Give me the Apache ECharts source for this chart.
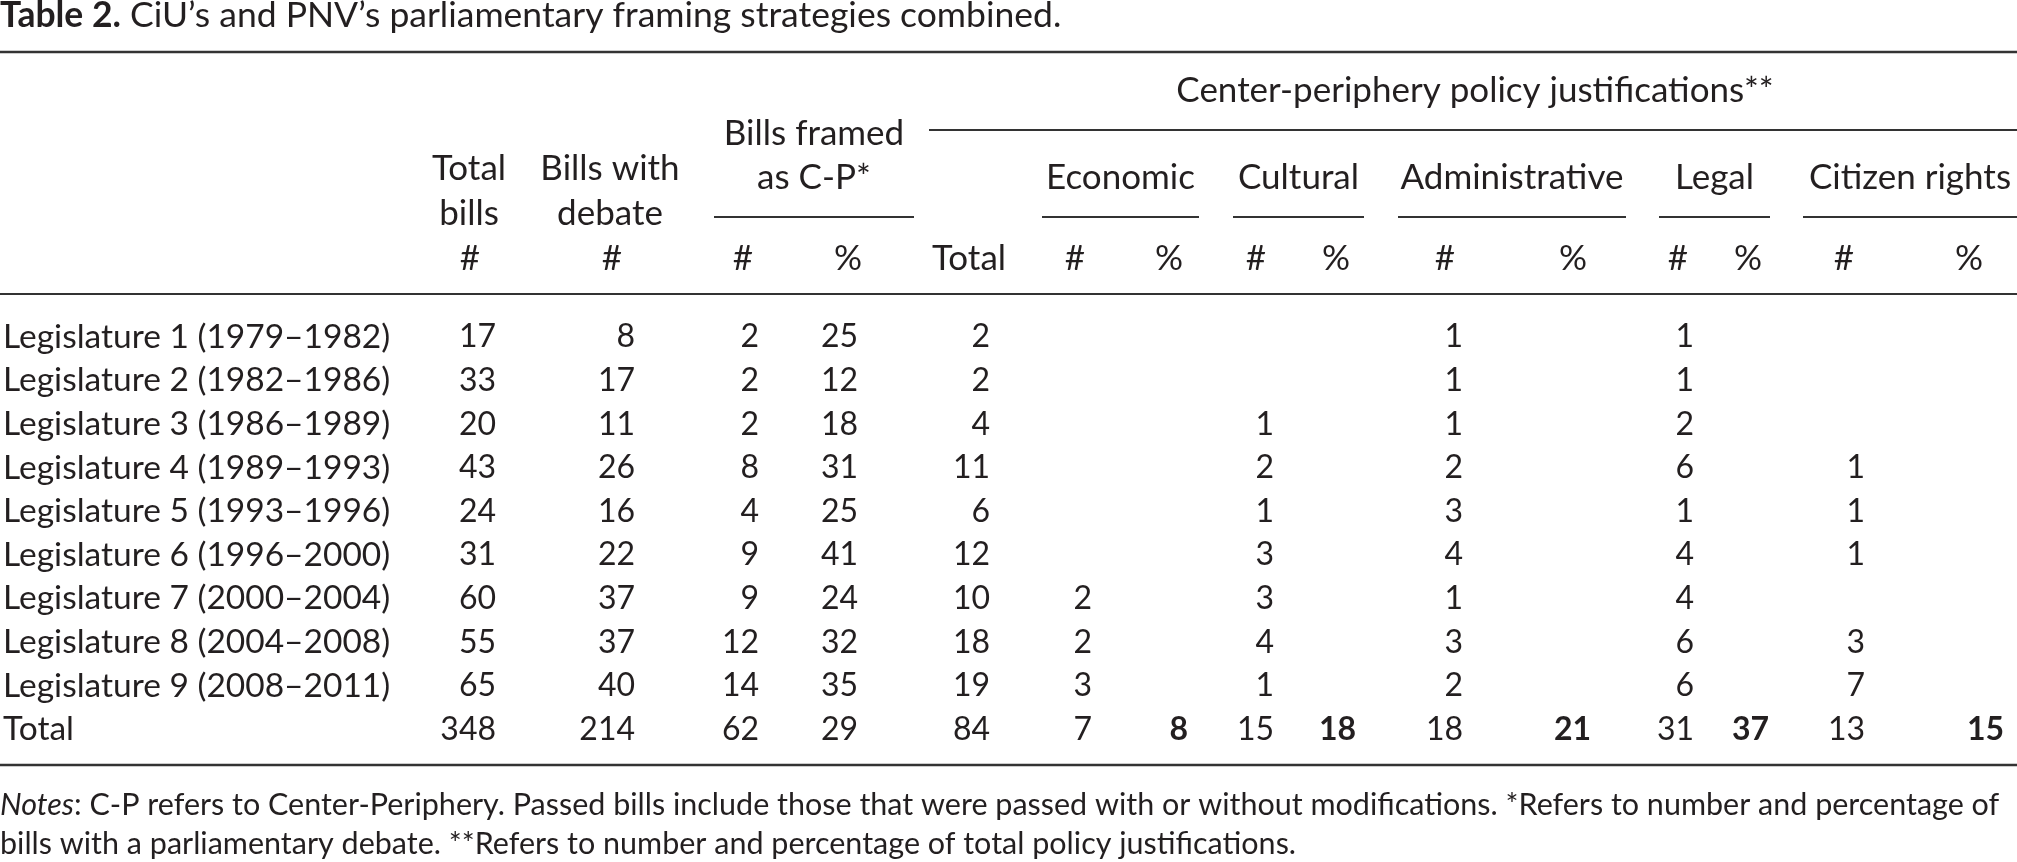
<!DOCTYPE html>
<html>
<head>
<meta charset="utf-8">
<script src="https://cdn.jsdelivr.net/npm/echarts@6/dist/echarts.min.js"></script>
<style>
  html, body { margin: 0; padding: 0; background: #fff; }
  #main { width: 2017px; height: 862px; }
</style>
</head>
<body>
<div id="main"></div>
<script>
    // table data
    var rowLabels = [
        'Legislature 1 (1979–1982)', 'Legislature 2 (1982–1986)', 'Legislature 3 (1986–1989)',
        'Legislature 4 (1989–1993)', 'Legislature 5 (1993–1996)', 'Legislature 6 (1996–2000)',
        'Legislature 7 (2000–2004)', 'Legislature 8 (2004–2008)', 'Legislature 9 (2008–2011)', 'Total'
    ];
    var totalBills   = [17, 33, 20, 43, 24, 31, 60, 55, 65, 348];
    var billsDebate  = [8, 17, 11, 26, 16, 22, 37, 37, 40, 214];
    var cpCount      = [2, 2, 2, 8, 4, 9, 9, 12, 14, 62];
    var cpPct        = [25, 12, 18, 31, 25, 41, 24, 32, 35, 29];
    var justTotal    = [2, 2, 4, 11, 6, 12, 10, 18, 19, 84];
    var economic     = [null, null, null, null, null, null, 2, 2, 3, 7];
    var economicPct  = [null, null, null, null, null, null, null, null, null, 8];
    var cultural     = [null, null, 1, 2, 1, 3, 3, 4, 1, 15];
    var culturalPct  = [null, null, null, null, null, null, null, null, null, 18];
    var admin        = [1, 1, 1, 2, 3, 4, 1, 3, 2, 18];
    var adminPct     = [null, null, null, null, null, null, null, null, null, 21];
    var legal        = [1, 1, 2, 6, 1, 4, 4, 6, 6, 31];
    var legalPct     = [null, null, null, null, null, null, null, null, null, 37];
    var citizen      = [null, null, null, 1, 1, 1, null, 3, 7, 13];
    var citizenPct   = [null, null, null, null, null, null, null, null, null, 15];

    var subHeads = ['#', '#', '#', '%', 'Total', '#', '%', '#', '%', '#', '%', '#', '%', '#', '%'];
    var groupHeads = ['Economic', 'Cultural', 'Administrative', 'Legal', 'Citizen rights'];

    var columns = [totalBills, billsDebate, cpCount, cpPct, justTotal,
                   economic, economicPct, cultural, culturalPct, admin, adminPct,
                   legal, legalPct, citizen, citizenPct];
    // share-of-justifications columns are set in bold
    var boldCols = [6, 8, 10, 12, 14];

    // layout (pixels)
    var W = 2017, H = 862;
    var colRight = [496, 635, 759, 858, 990, 1092, 1188, 1274, 1356, 1463, 1591, 1694, 1769, 1865, 2004];
    var colHead  = [470, 612, 743, 848, 969, 1075, 1169, 1256, 1336, 1445, 1573, 1678, 1748, 1844, 1969];
    var groupSpan = [[1042, 1199], [1233, 1364], [1398, 1626], [1659, 1770], [1803, 2017]];
    var rowY0 = 337, rowStep = 43.6;
    var FS_NUM = 32, FS_LAB = 33.5, FS_HEAD = 35, FS_TITLE = 35.5, FS_NOTE = 30.5;
    var FONT = 'Lato';
    var INK = '#231f20';

    var cells = [];
    rowLabels.forEach(function (lab, r) {
        cells.push({ value: [3, rowY0 + r * rowStep], text: lab, align: 'left', size: FS_LAB });
    });
    columns.forEach(function (col, c) {
        col.forEach(function (v, r) {
            if (v === null) return;
            cells.push({
                value: [colRight[c], rowY0 + r * rowStep],
                text: String(v), align: 'right', size: FS_NUM,
                bold: r === rowLabels.length - 1 && boldCols.indexOf(c) >= 0
            });
        });
    });

    var heads = [];
    subHeads.forEach(function (t, c) {
        heads.push({ value: [colHead[c], 259], text: t });
    });
    groupHeads.forEach(function (t, g) {
        heads.push({ value: [(groupSpan[g][0] + groupSpan[g][1]) / 2, 178], text: t });
    });
    heads.push({ value: [469, 169], text: 'Total' });
    heads.push({ value: [469, 214], text: 'bills' });
    heads.push({ value: [610, 169], text: 'Bills with' });
    heads.push({ value: [610, 214], text: 'debate' });
    heads.push({ value: [814, 134], text: 'Bills framed' });
    heads.push({ value: [814, 178], text: 'as C-P*' });
    heads.push({ value: [1475, 91], text: 'Center-periphery policy justifications**' });

    var rules = [
        { value: [0, W, 52], w: 2.6 },
        { value: [929, W, 130], w: 2 },
        { value: [714, 914, 217], w: 2 },
        { value: [0, W, 294], w: 2.2 },
        { value: [0, W, 765], w: 2.6 }
    ];
    groupSpan.forEach(function (s) {
        rules.push({ value: [s[0], s[1], 217], w: 2 });
    });

    var chart = echarts.init(document.getElementById('main'));

    function textItem(api, item, align, size) {
        var p = api.coord(item.value);
        return {
            type: 'text',
            x: p[0], y: p[1],
            style: {
                text: item.text,
                textAlign: align || item.align,
                textVerticalAlign: 'middle',
                verticalAlign: 'middle',
                font: (item.bold ? 'bold ' : '') + (size || item.size) + 'px ' + FONT,
                fill: INK
            }
        };
    }

    var option = {
        animation: false,
        grid: { left: 0, right: 0, top: 0, bottom: 0 },
        xAxis: { type: 'value', min: 0, max: W, show: false },
        yAxis: { type: 'value', min: 0, max: H, inverse: true, show: false },
        series: [{
            type: 'custom',
            data: cells,
            renderItem: function (params, api) {
                return textItem(api, cells[params.dataIndex]);
            }
        }, {
            type: 'custom',
            data: heads,
            renderItem: function (params, api) {
                return textItem(api, heads[params.dataIndex], 'center', FS_HEAD);
            }
        }, {
            type: 'custom',
            data: rules,
            renderItem: function (params, api) {
                var r = rules[params.dataIndex];
                var a = api.coord([r.value[0], r.value[2]]);
                var b = api.coord([r.value[1], r.value[2]]);
                return {
                    type: 'line',
                    shape: { x1: a[0], y1: a[1], x2: b[0], y2: b[1] },
                    style: { stroke: '#333', lineWidth: r.w }
                };
            }
        }],
        graphic: [{
            type: 'text', left: 0, top: -2,
            style: {
                text: '{b|Table 2.} CiU’s and PNV’s parliamentary framing strategies combined.',
                font: FS_TITLE + 'px ' + FONT, fill: INK,
                rich: { b: { fontWeight: 'bold', fontSize: FS_TITLE, fontFamily: FONT } }
            }
        }, {
            type: 'text', left: 0, top: 786,
            style: {
                text: '{i|Notes}: C-P refers to Center-Periphery. Passed bills include those that were passed with or without modifications. *Refers to number and percentage of\n' +
                      'bills with a parliamentary debate. **Refers to number and percentage of total policy justifications.',
                font: FS_NOTE + 'px ' + FONT, fill: INK, lineHeight: 39,
                rich: { i: { fontStyle: 'italic', fontSize: FS_NOTE, fontFamily: FONT } }
            }
        }]
    };

    chart.setOption(option);
</script>
</body>
</html>
